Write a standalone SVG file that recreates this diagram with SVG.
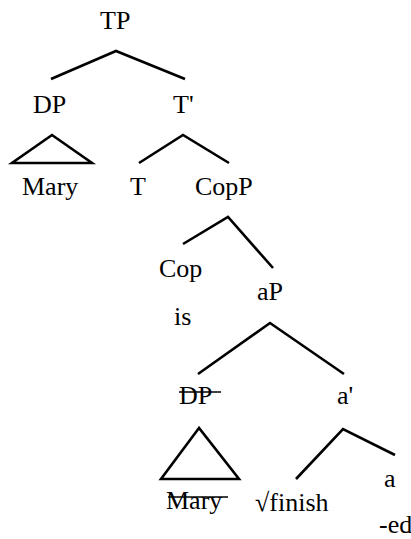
<svg xmlns="http://www.w3.org/2000/svg" width="411" height="539" viewBox="0 0 411 539">
<defs>
<marker id="none" markerWidth="1" markerHeight="1"/>
</defs>
<rect width="411" height="539" fill="#fff"/>
<g id="connectors" stroke="#000" stroke-width="2.6" fill="none">
<polyline points="51,79 116,51 185,79"/>
<polygon points="52,135 12,163 92,163"/>
<polyline points="139,163 183,135 229,163"/>
<polyline points="183,244 228,217 273,268"/>
<polyline points="198,374 270,323 344,374"/>
<polygon points="199,428 161,479 239,479"/>
<polyline points="296,479 343,429 395,455"/>
</g>
<g font-family="Liberation Serif" font-size="26" fill="#000">
<g id="TP"><text x="100" y="29">TP</text></g>
<g id="DP"><text x="33" y="113">DP</text></g>
<g id="Tbar"><text x="173" y="113">T'</text></g>
<g id="Mary"><text x="22" y="195">Mary</text></g>
<g id="T"><text x="130" y="195">T</text></g>
<g id="CopP"><text x="195" y="195">CopP</text></g>
<g id="Cop"><text x="159" y="277">Cop</text><text x="174" y="325">is</text></g>
<g id="aP"><text x="257" y="300">aP</text></g>
<g id="DP2"><text x="179" y="404">DP</text><line stroke="#000" stroke-width="1.6" x1="179" y1="392" x2="221" y2="392"/></g>
<g id="abar"><text x="337" y="404">a'</text></g>
<g id="Mary2"><text x="166" y="509">Mary</text><line stroke="#000" stroke-width="1.6" x1="168" y1="497" x2="228" y2="497"/></g>
<g id="finish"><text x="255" y="511">√finish</text></g>
<g id="a"><text x="384" y="487">a</text><text x="379" y="533">-ed</text></g>
</g>
</svg>
